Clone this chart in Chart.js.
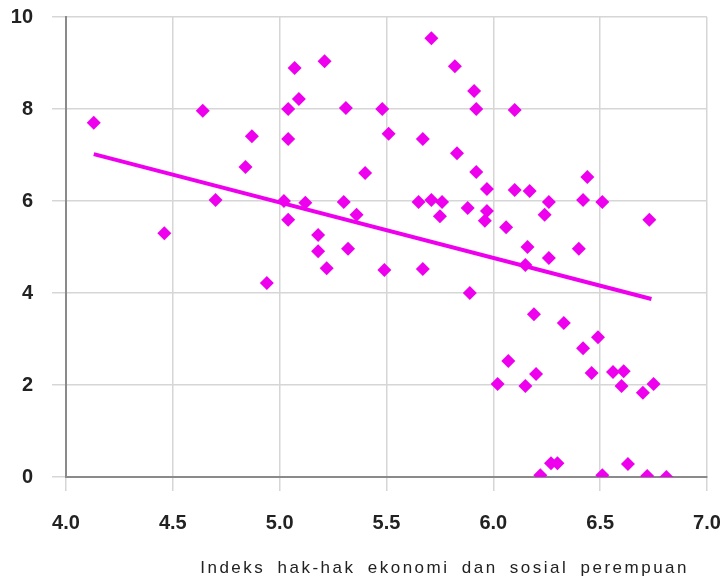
<!DOCTYPE html>
<html>
<head>
<meta charset="utf-8">
<script src="https://cdn.jsdelivr.net/npm/chart.js@4.4.1/dist/chart.umd.min.js"></script>
<style>
  html, body { margin: 0; padding: 0; background: #ffffff; }
  #wrap { width: 724px; height: 582px; }
</style>
</head>
<body>
<div id="wrap"><canvas id="c" width="724" height="582"></canvas></div>
<script>
// ---- data ----
const xValues = [4.13, 4.46, 4.64, 4.70, 4.84, 4.87, 4.94, 5.04, 5.04, 5.07,
                 5.09, 5.21, 5.02, 5.04, 5.12, 5.18, 5.18, 5.22, 5.31, 5.30,
                 5.32, 5.36, 5.40, 5.48, 5.51, 5.49, 5.65, 5.67, 5.67, 5.71,
                 5.71, 5.76, 5.75, 5.82, 5.83, 5.89, 5.88, 5.91, 5.92, 5.92,
                 5.97, 5.97, 5.96, 6.02, 6.06, 6.07, 6.10, 6.10, 6.17, 6.16,
                 6.15, 6.15, 6.19, 6.20, 6.22, 6.24, 6.26, 6.26, 6.27, 6.30,
                 6.33, 6.40, 6.42, 6.42, 6.44, 6.46, 6.49, 6.51, 6.51, 6.56,
                 6.61, 6.60, 6.63, 6.70, 6.72, 6.73, 6.75, 6.81];
const yValues = [7.70, 5.30, 7.96, 6.02, 6.74, 7.41, 4.22, 8.00, 7.35, 8.89,
                 8.22, 9.04, 6.00, 5.59, 5.96, 5.26, 4.91, 4.54, 8.02, 5.98,
                 4.96, 5.70, 6.61, 8.00, 7.46, 4.50, 5.98, 7.35, 4.52, 9.54,
                 6.02, 5.98, 5.67, 8.93, 7.04, 4.00, 5.85, 8.39, 8.00, 6.63,
                 6.26, 5.78, 5.57, 2.02, 5.43, 2.52, 6.24, 7.98, 6.22, 5.00,
                 4.61, 1.98, 3.54, 2.24, 0.04, 5.70, 5.98, 4.76, 0.30, 0.30,
                 3.35, 4.96, 6.02, 2.80, 6.52, 2.26, 3.04, 5.98, 0.04, 2.28,
                 2.30, 1.98, 0.28, 1.83, 0.02, 5.59, 2.02, 0.00];
const trendX = [4.13, 6.74];
const trendY = [7.02, 3.87];
const xTickLabels = ['4.0', '4.5', '5.0', '5.5', '6.0', '6.5', '7.0'];
const yTickLabels = ['0', '2', '4', '6', '8', '10'];
const xAxisTitle = 'Indeks hak-hak ekonomi dan sosial perempuan';

// ---- styles ----
const MAGENTA = '#ee00ee';
const GRID = '#d6d6d6';
const AXIS = '#8a8a8a';

const points = xValues.map((x, i) => ({ x: x, y: yValues[i] }));
const trend = trendX.map((x, i) => ({ x: x, y: trendY[i] }));

// spacing for the x-axis title (wraps the scale's own title drawing)
const titleSpacing = {
  id: 'titleSpacing',
  afterLayout(chart) {
    const s = chart.scales.x;
    if (s && !s.__wrapped) {
      const orig = s.drawTitle;
      s.drawTitle = function () {
        const ctx = this.ctx;
        ctx.save();
        ctx.letterSpacing = '2.5px';
        try { ctx.wordSpacing = '5px'; } catch (e) {}
        ctx.translate(-18, 0);
        orig.call(this);
        ctx.restore();
      };
      s.__wrapped = true;
    }
  }
};

new Chart(document.getElementById('c'), {
  type: 'scatter',
  data: {
    datasets: [
      {
        data: points,
        pointStyle: 'rectRot',
        pointRadius: 7,
        pointHoverRadius: 7,
        backgroundColor: MAGENTA,
        borderColor: MAGENTA,
        borderWidth: 0,
        order: 1
      },
      {
        data: trend,
        showLine: true,
        pointRadius: 0,
        borderColor: MAGENTA,
        borderWidth: 4,
        fill: false,
        order: 2
      }
    ]
  },
  options: {
    responsive: false,
    animation: false,
    events: [],
    layout: { padding: { left: 0, top: 17, right: 17, bottom: 0 } },
    plugins: { legend: { display: false }, tooltip: { enabled: false } },
    scales: {
      x: {
        type: 'linear',
        min: 4, max: 7,
        ticks: {
          stepSize: 0.5,
          padding: 20,
          color: '#222222',
          font: { family: 'Liberation Sans', size: 20, weight: 'bold' },
          callback: (v, i) => xTickLabels[i]
        },
        grid: { color: GRID, lineWidth: 1.5, tickLength: 14, drawTicks: true },
        border: { display: true, color: AXIS, width: 2 },
        title: {
          display: true,
          text: xAxisTitle,
          align: 'end',
          color: '#222222',
          font: { family: 'Liberation Sans', size: 17, weight: 'normal' },
          padding: { top: 24, bottom: 3 }
        },
        afterFit(scale) {
          scale.height = 105;
          scale.paddingLeft = 0;
          scale.paddingRight = 0;
        }
      },
      y: {
        type: 'linear',
        min: 0, max: 10,
        ticks: {
          stepSize: 2,
          padding: 19,
          color: '#222222',
          font: { family: 'Liberation Sans', size: 20, weight: 'bold' },
          callback: (v, i) => yTickLabels[i]
        },
        grid: { color: GRID, lineWidth: 1.5, tickLength: 14, drawTicks: true },
        border: { display: true, color: AXIS, width: 2 },
        afterFit(scale) {
          scale.width = 66;
          scale.paddingTop = 0;
          scale.paddingBottom = 0;
        }
      }
    }
  },
  plugins: [titleSpacing]
});
</script>
</body>
</html>
